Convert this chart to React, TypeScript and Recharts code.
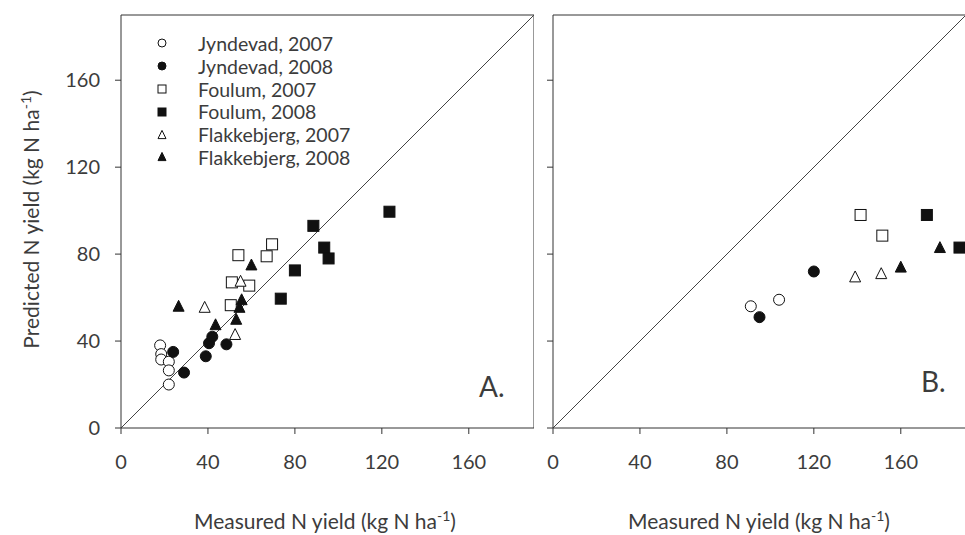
import { ScatterChart, Scatter, XAxis, YAxis, ReferenceLine } from 'recharts'

type Pt = { x: number; y: number }

const X_TICKS = [0, 40, 80, 120, 160]
const Y_TICKS = [0, 40, 80, 120, 160]
const MAX = 190

// panel A: measured vs predicted, all sites
const jyndevad07A: Pt[] = [
  { x: 18, y: 38 }, { x: 18.5, y: 34 }, { x: 18.5, y: 31.5 }, { x: 22, y: 30.5 }, { x: 22, y: 26.5 }, { x: 22, y: 20 },
]
const jyndevad08A: Pt[] = [
  { x: 24, y: 35 }, { x: 29, y: 25.5 }, { x: 39, y: 33 }, { x: 40.5, y: 39 }, { x: 42, y: 42 }, { x: 48.5, y: 38.5 },
]
const foulum07A: Pt[] = [
  { x: 54, y: 79.5 }, { x: 69.5, y: 84.5 }, { x: 67, y: 79 }, { x: 51, y: 67 }, { x: 59, y: 65.5 }, { x: 50.5, y: 56.5 },
]
const foulum08A: Pt[] = [
  { x: 123.5, y: 99.5 }, { x: 88.5, y: 93 }, { x: 93.5, y: 83 }, { x: 95.5, y: 78 }, { x: 80, y: 72.5 }, { x: 73.5, y: 59.5 },
]
const flakke07A: Pt[] = [{ x: 38.5, y: 55.5 }, { x: 55, y: 67.5 }, { x: 52.5, y: 43 }]
const flakke08A: Pt[] = [
  { x: 26.5, y: 56 }, { x: 60, y: 75 }, { x: 43.5, y: 47.5 }, { x: 55.5, y: 59 }, { x: 54.5, y: 55.5 }, { x: 53, y: 50 },
]

// panel B
const jyndevad07B: Pt[] = [{ x: 91, y: 56 }, { x: 104, y: 59 }]
const jyndevad08B: Pt[] = [{ x: 95, y: 51 }, { x: 120, y: 72 }]
const foulum07B: Pt[] = [{ x: 141.5, y: 98 }, { x: 151.5, y: 88.5 }]
const foulum08B: Pt[] = [{ x: 172, y: 98 }, { x: 187, y: 83 }]
const flakke07B: Pt[] = [{ x: 139, y: 69.5 }, { x: 151, y: 71 }]
const flakke08B: Pt[] = [{ x: 160, y: 74 }, { x: 178, y: 83 }]

const LEGEND = [
  { name: 'Jyndevad, 2007', kind: 'circle', filled: false },
  { name: 'Jyndevad, 2008', kind: 'circle', filled: true },
  { name: 'Foulum, 2007', kind: 'square', filled: false },
  { name: 'Foulum, 2008', kind: 'square', filled: true },
  { name: 'Flakkebjerg, 2007', kind: 'triangle', filled: false },
  { name: 'Flakkebjerg, 2008', kind: 'triangle', filled: true },
]

const FONT = 'Lato, sans-serif'
const TXT = '#3c3c3c'
const AX = '#333'

function markerEl(kind: string, filled: boolean, cx: number, cy: number, s: number) {
  const fill = filled ? '#111' : '#fff'
  const stroke = '#111'
  if (kind === 'circle') return <circle cx={cx} cy={cy} r={s / 2} fill={fill} stroke={stroke} strokeWidth={1} />
  if (kind === 'square')
    return <rect x={cx - s / 2} y={cy - s / 2} width={s} height={s} fill={fill} stroke={stroke} strokeWidth={1} />
  const h = s * 0.9
  return (
    <polygon
      points={`${cx},${cy - h / 2 - 1} ${cx - s / 2},${cy + h / 2} ${cx + s / 2},${cy + h / 2}`}
      fill={fill}
      stroke={stroke}
      strokeWidth={1}
    />
  )
}

const shape = (kind: string, filled: boolean) => (p: any) => markerEl(kind, filled, p.cx, p.cy, 11)

function Panel({ data, left, width, ml, yw, showYLabels }: any) {
  return (
    <div style={{ position: 'absolute', left, top: 0 }}>
      <ScatterChart width={width} height={535} margin={{ top: 15, right: 0, bottom: 67, left: ml }}>
        <XAxis
          type="number"
          dataKey="x"
          domain={[0, MAX]}
          ticks={X_TICKS}
          height={40}
          tickSize={6}
          tickMargin={21}
          stroke={AX}
          tick={{ fontSize: 20, fill: TXT, fontFamily: FONT }}
        />
        <YAxis
          type="number"
          dataKey="y"
          domain={[0, MAX]}
          ticks={Y_TICKS}
          width={yw}
          tickSize={6}
          tickMargin={15}
          stroke={AX}
          tickFormatter={showYLabels ? undefined : () => ''}
          tick={{ fontSize: 20, fill: TXT, fontFamily: FONT }}
        />
        <ReferenceLine y={MAX} stroke={AX} strokeWidth={1} />
        <ReferenceLine x={MAX} stroke={AX} strokeWidth={1} />
        <ReferenceLine segment={[{ x: 0, y: 0 }, { x: MAX, y: MAX }]} stroke="#444" strokeWidth={1} />
        {LEGEND.map((l, i) => (
          <Scatter key={l.name} name={l.name} data={data[i]} isAnimationActive={false} shape={shape(l.kind, l.filled)} />
        ))}
      </ScatterChart>
    </div>
  )
}

const supStyle = { fontSize: 14, lineHeight: 0, verticalAlign: 'super' as const }

function XTitle({ cx }: { cx: number }) {
  return (
    <div
      style={{
        position: 'absolute', left: cx - 200, top: 510, width: 400, textAlign: 'center',
        fontSize: 21, lineHeight: '21px', fontFamily: FONT, color: TXT,
      }}
    >
      Measured N yield (kg N ha<sup style={supStyle}>-1</sup>)
    </div>
  )
}

export default function App() {
  const dataA = [jyndevad07A, jyndevad08A, foulum07A, foulum08A, flakke07A, flakke08A]
  const dataB = [jyndevad07B, jyndevad08B, foulum07B, foulum08B, flakke07B, flakke08B]
  return (
    <div style={{ position: 'absolute', left: 0, top: 0, width: 965, height: 535, background: '#fff', overflow: 'hidden' }}>
      <Panel data={dataA} left={0} width={534} ml={61} yw={60} showYLabels />
      <Panel data={dataB} left={540} width={426} ml={3} yw={10} showYLabels={false} />

      {/* legend inside panel A */}
      <div style={{ position: 'absolute', left: 150, top: 32, fontFamily: FONT, fontSize: 19.5, color: TXT }}>
        {LEGEND.map((l) => (
          <div key={l.name} style={{ display: 'flex', alignItems: 'center', height: 22.8 }}>
            <svg width={24} height={20}>{markerEl(l.kind, l.filled, 12, 10, 8)}</svg>
            <span style={{ marginLeft: 24 }}>{l.name}</span>
          </div>
        ))}
      </div>

      <div style={{ position: 'absolute', left: 479, top: 372, fontFamily: FONT, fontSize: 28, lineHeight: '28px', color: TXT }}>A.</div>
      <div style={{ position: 'absolute', left: 921, top: 367, fontFamily: FONT, fontSize: 28, lineHeight: '28px', color: TXT }}>B.</div>

      <div
        style={{
          position: 'absolute', left: 30 - 160, top: 219 - 10, width: 320, height: 21, textAlign: 'center',
          fontSize: 21, lineHeight: '21px', fontFamily: FONT, color: TXT, transform: 'rotate(-90deg)',
        }}
      >
        Predicted N yield (kg N ha<sup style={supStyle}>-1</sup>)
      </div>
      <XTitle cx={325} />
      <XTitle cx={759} />
    </div>
  )
}
